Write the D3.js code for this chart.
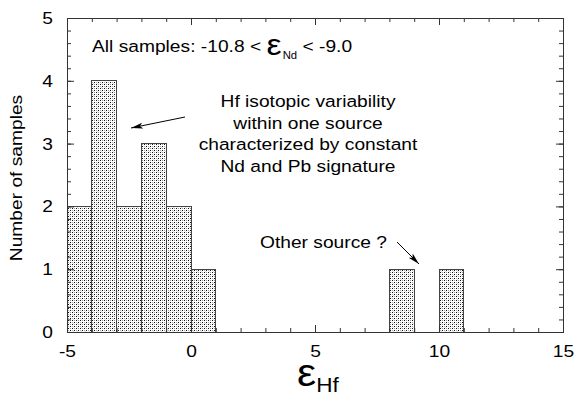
<!DOCTYPE html>
<html>
<head>
<meta charset="utf-8">
<script src="https://cdn.jsdelivr.net/npm/d3@7"></script>
<style>
  body { margin: 0; background: #fff; }
  text { font-family: "Liberation Sans", Arial, sans-serif; fill: #000; }
</style>
</head>
<body>
<div id="chart"></div>
<script>
// Data (histogram of eps-Hf, bin width 1)
var binStart = [-5, -4, -3, -2, -1, 0, 8, 10];
var counts   = [ 2,  4,  2,  3,  2, 1, 1,  1];
var binWidth = 1;
var xTicks = [-5, 0, 5, 10, 15];
var yTicks = [0, 1, 2, 3, 4, 5];

var W = 577, H = 403;
var SX = 1.13; // the original font is wider than Arial
var pL = 67, pR = 563, pT = 18, pB = 332;

var svg = d3.select("#chart").append("svg")
    .attr("width", W)
    .attr("height", H);

var x = d3.scaleLinear().domain([-5, 15]).range([pL, pR]);
var y = d3.scaleLinear().domain([0, 5]).range([pB, pT]);

// stipple fill
var defs = svg.append("defs");
var pat = defs.append("pattern")
    .attr("id", "stip")
    .attr("patternUnits", "userSpaceOnUse")
    .attr("width", 4).attr("height", 4);
pat.append("rect").attr("width", 4).attr("height", 4).attr("fill", "#fff");
[[0, 0, "#111"], [2, 2, "#111"], [2, 0, "#999"], [0, 2, "#aaa"], [1, 3, "#ddd"]].forEach(function(p) {
  pat.append("rect").attr("x", p[0]).attr("y", p[1])
     .attr("width", 1).attr("height", 1).attr("fill", p[2]);
});

defs.append("marker")
    .attr("id", "arr")
    .attr("viewBox", "0 0 12 6")
    .attr("refX", 12).attr("refY", 3)
    .attr("markerWidth", 12).attr("markerHeight", 6)
    .attr("markerUnits", "userSpaceOnUse")
    .attr("orient", "auto")
  .append("path")
    .attr("d", "M0,0 L12,3 L0,6 L3,3 Z")
    .attr("fill", "#000");

// bars
var bins = binStart.map(function(s, i) { return { x0: s, x1: s + binWidth, n: counts[i] }; });
svg.append("g").selectAll("rect")
    .data(bins)
    .enter().append("rect")
      .attr("x", function(d) { return x(d.x0); })
      .attr("y", function(d) { return y(d.n); })
      .attr("width", function(d) { return x(d.x1) - x(d.x0); })
      .attr("height", function(d) { return y(0) - y(d.n); })
      .attr("fill", "url(#stip)")
      .attr("stroke", "#444")
      .attr("stroke-width", 1)
      .attr("shape-rendering", "crispEdges");

// axes, ticks inward on all four sides
function axisG(gen, tx, ty) {
  var g = svg.append("g")
      .attr("transform", "translate(" + tx + "," + ty + ")")
      .attr("color", "#333")
      .call(gen);
  g.select(".domain").remove();
  g.attr("font-family", null).attr("font-size", null);
  return g;
}
var minorX = d3.range(-5, 16, 1);
var minorY = d3.range(0, 26, 1).map(function(i) { return i / 5; });
var plain = function(d) { return String(d); };

axisG(d3.axisBottom(x).tickValues(minorX).tickSize(-4).tickFormat(""), 0, pB);
axisG(d3.axisTop(x).tickValues(minorX).tickSize(-4).tickFormat(""), 0, pT);
axisG(d3.axisTop(x).tickValues(xTicks).tickSize(-7).tickFormat(""), 0, pT);
axisG(d3.axisLeft(y).tickValues(minorY).tickSize(-4).tickFormat(""), pL, 0);
axisG(d3.axisRight(y).tickValues(minorY).tickSize(-4).tickFormat(""), pR, 0);
axisG(d3.axisRight(y).tickValues(yTicks).tickSize(-7).tickFormat(""), pR, 0);

var xAx = axisG(d3.axisBottom(x).tickValues(xTicks).tickSize(-7).tickPadding(13).tickFormat(plain), 0, pB);
xAx.selectAll("text")
    .style("font-size", "17px")
    .attr("transform", "scale(" + SX + ",1)");

var yAx = axisG(d3.axisLeft(y).tickValues(yTicks).tickSize(-7).tickPadding(14).tickFormat(plain), pL, 0);
yAx.selectAll("text")
    .style("font-size", "17px")
    .attr("x", -14 / SX)
    .attr("transform", "scale(" + SX + ",1)");

// frame
svg.append("rect")
    .attr("x", pL).attr("y", pT)
    .attr("width", pR - pL).attr("height", pB - pT)
    .attr("fill", "none")
    .attr("stroke", "#333")
    .attr("shape-rendering", "crispEdges");

// axis titles
svg.append("g")
    .attr("transform", "translate(22," + 178 + ") rotate(-90) scale(" + SX + ",1)")
  .append("text")
    .attr("text-anchor", "middle")
    .style("font-size", "17px")
    .text("Number of samples");

var xt = svg.append("g")
    .attr("transform", "translate(297,386) scale(" + SX + ",1)")
  .append("text");
xt.append("tspan").style("font-size", "38px").text("\u03b5");
xt.append("tspan").style("font-size", "20px").attr("dy", 6).text("Hf");

// annotations
var t1 = svg.append("g")
    .attr("transform", "translate(92,52) scale(" + SX + ",1)")
  .append("text").style("font-size", "17px");
t1.append("tspan").text("All samples: -10.8 < ");
t1.append("tspan").style("font-size", "30px").attr("dy", 3).text("\u03b5");
t1.append("tspan").style("font-size", "10px").attr("dy", 4).attr("dx", 1).text("Nd");
t1.append("tspan").attr("dy", -7).text(" < -9.0");

var lines = ["Hf isotopic variability", "within one source",
             "characterized by constant", "Nd and Pb signature"];
svg.append("g").selectAll("g")
    .data(lines)
    .enter().append("g")
      .attr("transform", function(d, i) { return "translate(308," + (107 + i * 21.6) + ") scale(" + SX + ",1)"; })
    .append("text")
      .attr("text-anchor", "middle")
      .style("font-size", "17px")
      .text(function(d) { return d; });

svg.append("g")
    .attr("transform", "translate(260,248) scale(" + SX + ",1)")
  .append("text")
    .style("font-size", "17px")
    .text("Other source ?");

// arrows
svg.append("line")
    .attr("x1", 185).attr("y1", 117).attr("x2", 131).attr("y2", 128)
    .attr("stroke", "#000").attr("stroke-width", 1)
    .attr("marker-end", "url(#arr)");
svg.append("line")
    .attr("x1", 397).attr("y1", 242).attr("x2", 419).attr("y2", 264)
    .attr("stroke", "#000").attr("stroke-width", 1)
    .attr("marker-end", "url(#arr)");
</script>
</body>
</html>
